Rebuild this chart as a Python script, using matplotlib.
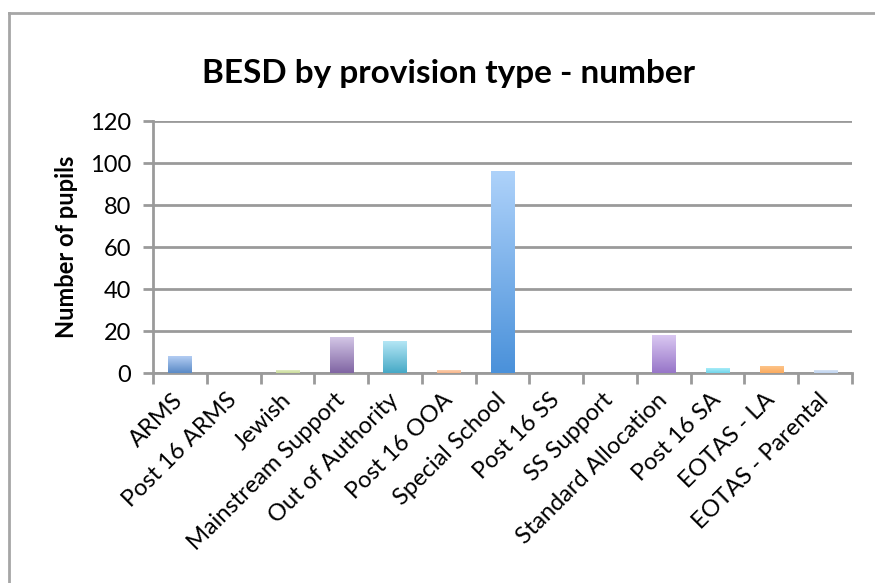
import matplotlib

matplotlib.use("Agg")
import matplotlib.pyplot as plt
import matplotlib.transforms as mtransforms
import numpy as np
from matplotlib.colors import LinearSegmentedColormap
from matplotlib.lines import Line2D


# =====================================================
# Data
# =====================================================

provision_types = [
    "ARMS",
    "Post 16 ARMS",
    "Jewish",
    "Mainstream Support",
    "Out of Authority",
    "Post 16 OOA",
    "Special School",
    "Post 16 SS",
    "SS Support",
    "Standard Allocation",
    "Post 16 SA",
    "EOTAS - LA",
    "EOTAS - Parental",
]
pupil_counts = [8, 0, 1, 17, 15, 1, 96, 0, 0, 18, 2, 3, 1]

# top / bottom colour of each bar's vertical gradient
bar_tops = [
    "#b3cdf3", "#b3cdf3", "#e2ecc2", "#d3c6e6", "#b4e6f5", "#fdd0ae",
    "#aed2fa", "#b3cdf3", "#b3cdf3", "#dac8f2", "#a9ecf8", "#fdc48a",
    "#d8e4f5",
]
bar_bottoms = [
    "#5a8ac6", "#5a8ac6", "#c9dc98", "#8065a3", "#46a9c6", "#f7b48a",
    "#4a91da", "#5a8ac6", "#5a8ac6", "#9775c8", "#6fd5ea", "#fbab5e",
    "#bcd2ef",
]

y_ticks = [0, 20, 40, 60, 80, 100, 120]


# =====================================================
# Figure setup
# =====================================================

plt.rcParams["font.family"] = ["Lato", "DejaVu Sans"]

fig = plt.figure(figsize=(8.75, 5.83), dpi=100)
ax = fig.add_axes([153 / 875, 210 / 583, 699 / 875, 252 / 583])

grey = "#9a9a9a"

# outer chart frame (top and left edges only fall inside the image)
fig.add_artist(Line2D([9 / 875, 1.0], [1 - 13 / 583, 1 - 13 / 583],
                      transform=fig.transFigure, color="#a6a6a6", lw=2))
fig.add_artist(Line2D([9 / 875, 9 / 875], [0.0, 1 - 13 / 583],
                      transform=fig.transFigure, color="#a6a6a6", lw=2))


# =====================================================
# Bars with vertical gradient
# =====================================================

n = len(provision_types)
centers = np.arange(n) + 0.5
bar_width = 0.43

gradient = np.linspace(0, 1, 256).reshape(-1, 1)
for x, value, top, bottom in zip(centers, pupil_counts, bar_tops, bar_bottoms):
    if value <= 0:
        continue
    cmap = LinearSegmentedColormap.from_list("bar", [bottom, top])
    ax.imshow(
        gradient,
        cmap=cmap,
        origin="lower",
        aspect="auto",
        extent=(x - bar_width / 2, x + bar_width / 2, 0, value),
        zorder=3,
        interpolation="bilinear",
    )

# imshow resets limits; set them afterwards
ax.set_xlim(0, n)
ax.set_ylim(0, 120)


# =====================================================
# Axes styling
# =====================================================

ax.set_yticks(y_ticks)
ax.yaxis.grid(True, color=grey, lw=2)
ax.set_axisbelow(True)

for side in ["top", "right"]:
    ax.spines[side].set_visible(False)
for side in ["left", "bottom"]:
    ax.spines[side].set_color(grey)
    ax.spines[side].set_linewidth(2)

# category boundary ticks on x, labels at the bar centres
ax.set_xticks(np.arange(n + 1))
ax.set_xticklabels([])
ax.set_xticks(centers, minor=True)
ax.set_xticklabels(
    provision_types,
    minor=True,
    rotation=45,
    ha="right",
    va="center",
    rotation_mode="anchor",
    fontsize=17,
)
shift = mtransforms.ScaledTranslation(2 / 100, 0, fig.dpi_scale_trans)
for label in ax.get_xticklabels(minor=True):
    label.set_transform(label.get_transform() + shift)

ax.tick_params(axis="x", which="major", length=8, width=2, color=grey)
ax.tick_params(axis="x", which="minor", length=0, pad=17)
ax.tick_params(axis="y", length=7, width=2, color=grey, labelsize=17, pad=9)

ax.set_ylabel("Number of pupils", fontsize=17, fontweight="bold")
ax.yaxis.set_label_coords(-0.108, 0.5)

fig.text(
    0.512,
    1 - 74 / 583,
    "BESD by provision type - number",
    ha="center",
    va="center",
    fontsize=24,
    fontweight="bold",
)

fig.savefig("out.png", dpi=100)
plt.close(fig)
